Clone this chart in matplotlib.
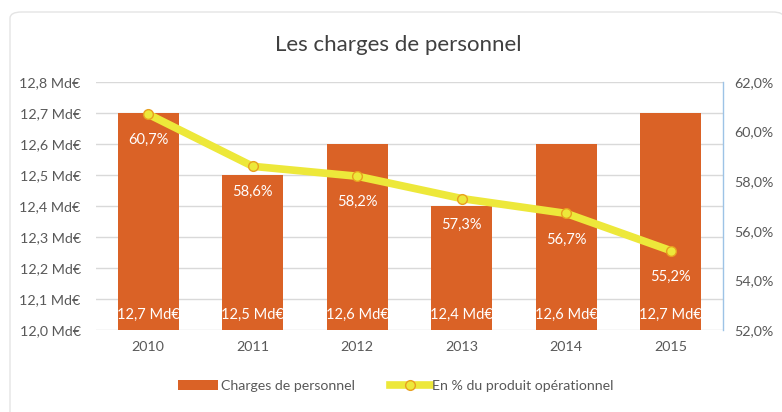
import matplotlib.pyplot as plt
from matplotlib.patches import FancyBboxPatch
import numpy as np

years = ["2010", "2011", "2012", "2013", "2014", "2015"]
charges = [12.7, 12.5, 12.6, 12.4, 12.6, 12.7]  # Md€
pct = [60.7, 58.6, 58.2, 57.3, 56.7, 55.2]  # % du produit opérationnel

plt.rcParams['font.family'] = ['Lato', 'DejaVu Sans']

BAR = '#DA6226'
LINE = '#EDE83A'
GREY = '#595959'

fig = plt.figure(figsize=(7.82, 4.12), dpi=100)
W, H = 782, 412

# card background
card = FancyBboxPatch((10 / W, -0.05), 0.99, 1 - 12 / H + 0.05,
                      boxstyle="round,pad=0,rounding_size=0.015",
                      transform=fig.transFigure, facecolor='white',
                      edgecolor='#E4E4E4', lw=1.0, zorder=-5)
fig.patches.append(card)

ax = fig.add_axes([96 / W, 1 - 330 / H, (723 - 96) / W, (330 - 82) / H])
ax.set_facecolor('none')
x = np.arange(len(years))

ax.bar(x, [c - 12.0 for c in charges], bottom=12.0, width=0.58, color=BAR, zorder=2)
ax.set_ylim(12.0, 12.8)
ax.set_xlim(-0.5, 5.5)
ax.set_yticks(np.arange(12.0, 12.81, 0.1))
ax.set_yticklabels([f"{v:.1f}".replace('.', ',') + " Md€" for v in np.arange(12.0, 12.81, 0.1)])
ax.set_xticks(x)
ax.set_xticklabels(years)
ax.grid(axis='y', color='#D9D9D9', lw=1, zorder=0)
ax.set_axisbelow(True)
for s in ['left', 'top', 'bottom', 'right']:
    ax.spines[s].set_visible(False)
ax.tick_params(axis='both', length=0, colors=GREY, labelsize=10.3)
ax.tick_params(axis='y', pad=11)
ax.tick_params(axis='x', pad=8)

for i, c in enumerate(charges):
    ax.text(i, 12.05, f"{c:.1f}".replace('.', ',') + " Md€", ha='center', va='center',
            color='white', fontsize=10.5, zorder=4)

ax2 = ax.twinx()
ax2.set_ylim(52, 62)
ax2.set_yticks(np.arange(52, 62.1, 2))
ax2.set_yticklabels([f"{v:.1f}".replace('.', ',') + "%" for v in np.arange(52, 62.1, 2)])
for s in ['left', 'top', 'bottom']:
    ax2.spines[s].set_visible(False)
ax2.spines['right'].set_color('#9DC3E6')
ax2.spines['right'].set_linewidth(1)
ax2.tick_params(axis='y', length=0, colors=GREY, labelsize=10.3, pad=8)

ax2.plot(x, pct, color=LINE, lw=5.5, marker='o', markersize=7,
         markerfacecolor=LINE, markeredgecolor='#E8A020', markeredgewidth=1,
         solid_capstyle='round', zorder=3)
for i, p in enumerate(pct):
    ax2.text(i, p - 1.05, f"{p:.1f}".replace('.', ',') + "%", ha='center', va='center',
             color='white', fontsize=10.5, zorder=4)

fig.text(398 / W, 1 - 45 / H, "Les charges de personnel", ha='center', va='center',
         fontsize=16, color='#404040')

h1 = ax.bar([0], [0], color=BAR)[0]
h2, = ax.plot([], [], color=LINE, lw=5.5, marker='o', markersize=7,
              markerfacecolor=LINE, markeredgecolor='#E8A020')
fig.legend([h1, h2], ["Charges de personnel", "En % du produit opérationnel"],
           loc='center', bbox_to_anchor=(396 / W, 1 - 386 / H), ncol=2, frameon=False,
           fontsize=10.2, labelcolor=GREY, handlelength=2.8, columnspacing=2.5,
           handletextpad=0.2)

fig.savefig('out.png', dpi=100)
